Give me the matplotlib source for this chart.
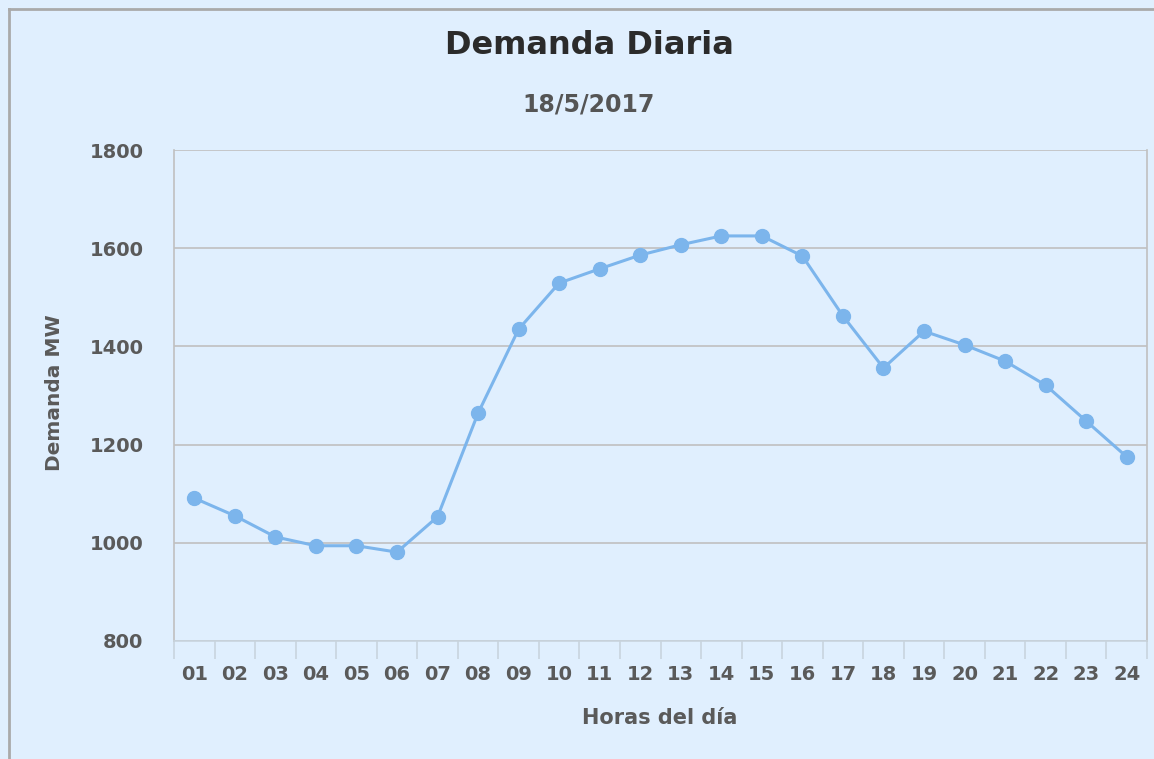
import matplotlib.pyplot as plt
import numpy as np

horas = ["01", "02", "03", "04", "05", "06", "07", "08", "09", "10", "11", "12",
         "13", "14", "15", "16", "17", "18", "19", "20", "21", "22", "23", "24"]
demanda = [1091, 1055, 1012, 994, 994, 981, 1053, 1264, 1435, 1529, 1558, 1586,
           1607, 1625, 1625, 1584, 1462, 1356, 1431, 1403, 1370, 1321, 1248, 1175]

bg = "#E0EFFE"
txt = "#5a5a5a"
fig = plt.figure(figsize=(11.54, 7.59), dpi=100, facecolor=bg)
ax = fig.add_axes([174 / 1154, 1 - 641 / 759, (1147 - 174) / 1154, (641 - 150) / 759])
ax.set_facecolor(bg)

x = np.arange(len(horas))
ax.plot(x, demanda, color="#7CB5EC", lw=2.2, marker="o", markersize=10, zorder=3)

ax.set_xlim(-0.5, len(horas) - 0.5)
ax.set_ylim(800, 1800)
ax.set_yticks([800, 1000, 1200, 1400, 1600, 1800])
ax.yaxis.grid(True, color="#C0C0C0", lw=1.2)
ax.set_axisbelow(True)

ax.set_xticks(x)
ax.set_xticklabels(horas)
ax.set_xticks(np.arange(-0.5, len(horas)), minor=True)
ax.tick_params(axis="x", which="major", length=0, pad=17)
ax.tick_params(axis="x", which="minor", length=13, color="#C8D4DE", width=1.2)
ax.tick_params(axis="y", length=0, pad=22)
for lab in ax.get_xticklabels() + ax.get_yticklabels():
    lab.set_fontsize(14)
    lab.set_fontweight("bold")
    lab.set_color(txt)

for s in ["left", "right"]:
    ax.spines[s].set_color("#C0C0C0")
    ax.spines[s].set_linewidth(1.2)
ax.spines["top"].set_visible(False)
ax.spines["bottom"].set_color("#C8D4DE")
ax.spines["bottom"].set_linewidth(1.2)

ax.set_ylabel("Demanda MW", fontsize=14.5, fontweight="bold", color=txt, va="center")
ax.yaxis.set_label_coords((55 - 174) / 973, (641 - 393) / 491)
ax.set_xlabel("Horas del día", fontsize=15, fontweight="bold", color=txt, va="center")
ax.xaxis.set_label_coords(0.5 - (660.5 - 660) / 973, (641 - 718) / 491)

fig.text(589 / 1154, 1 - 45 / 759, "Demanda Diaria", ha="center", va="center",
         fontsize=23, fontweight="bold", color="#2b2b2b")
fig.text(589 / 1154, 1 - 105 / 759, "18/5/2017", ha="center", va="center",
         fontsize=17, fontweight="bold", color="#555555")

# outer border (picture is cropped on the right and bottom)
fig.add_artist(plt.Line2D([9 / 1154, 9 / 1154], [0, 1 - 9 / 759], color="#AAAAAA", lw=2))
fig.add_artist(plt.Line2D([9 / 1154, 1], [1 - 9 / 759, 1 - 9 / 759], color="#AAAAAA", lw=2))

fig.savefig("out.png", dpi=100, facecolor=bg)
